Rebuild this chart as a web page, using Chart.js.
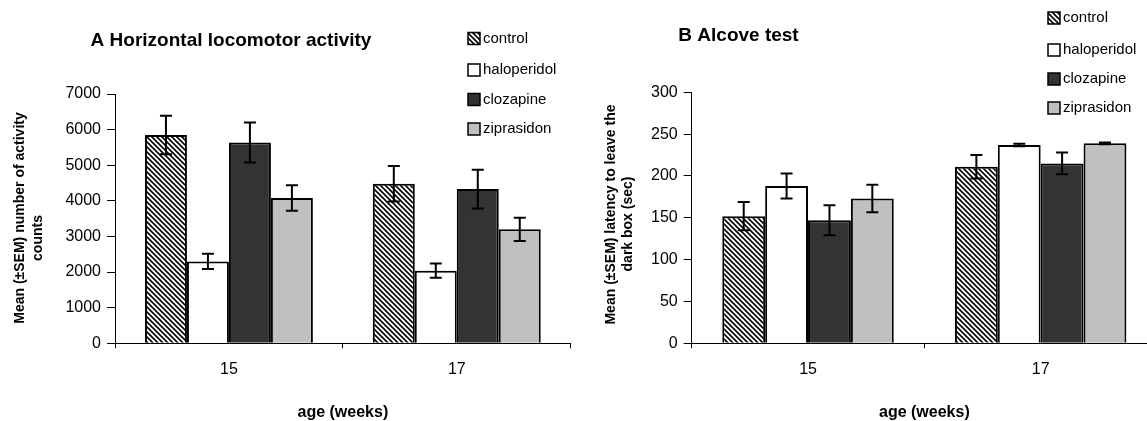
<!DOCTYPE html>
<html>
<head>
<meta charset="utf-8">
<script src="https://cdn.jsdelivr.net/npm/chart.js@4.4.0/dist/chart.umd.min.js"></script>
<style>
html, body { margin: 0; padding: 0; background: #fff; overflow: hidden; width: 1147px; height: 421px; }
.box { position: absolute; top: 0; height: 421px; }
#boxA { left: 0; width: 580px; }
#boxB { left: 580px; width: 580px; }
</style>
</head>
<body>
<div class="box" id="boxA"><canvas id="chartA" width="580" height="421"></canvas></div>
<div class="box" id="boxB"><canvas id="chartB" width="580" height="421"></canvas></div>
<script>
// age in weeks
const categories = ['15', '17'];
const seriesNames = ['control', 'haloperidol', 'clozapine', 'ziprasidon'];

// A: horizontal locomotor activity (counts), mean and SEM
const locoControl = [5850, 4480];
const locoHaloperidol = [2300, 2040];
const locoClozapine = [5640, 4330];
const locoZiprasidon = [4080, 3200];
const locoSemControl = [540, 500];
const locoSemHaloperidol = [215, 200];
const locoSemClozapine = [560, 545];
const locoSemZiprasidon = [355, 325];
const locoTicks = [0, 1000, 2000, 3000, 4000, 5000, 6000, 7000];

// B: alcove test, latency (sec), mean and SEM
const alcoveControl = [152, 211];
const alcoveHaloperidol = [188, 237];
const alcoveClozapine = [147, 215];
const alcoveZiprasidon = [173, 239];
const alcoveSemControl = [17, 14];
const alcoveSemHaloperidol = [15, 1.5];
const alcoveSemClozapine = [18, 13];
const alcoveSemZiprasidon = [16.5, 1];
const alcoveTicks = [0, 50, 100, 150, 200, 250, 300];

const FONT = "'Liberation Sans', Arial, sans-serif";
Chart.defaults.font.family = FONT;
Chart.defaults.color = '#000';

// diagonal hatch for the control group
function makeHatch() {
    const s = 5;
    const c = document.createElement('canvas');
    c.width = s; c.height = s;
    const g = c.getContext('2d');
    g.fillStyle = '#fff';
    g.fillRect(0, 0, s, s);
    g.strokeStyle = '#000';
    g.lineWidth = 1.6;
    g.beginPath();
    g.moveTo(-1, -1); g.lineTo(s + 1, s + 1);
    g.moveTo(-1, s - 1); g.lineTo(1, s + 1);
    g.moveTo(s - 1, -1); g.lineTo(s + 1, 1);
    g.stroke();
    return g.createPattern(c, 'repeat');
}
const hatch = makeHatch();
const fills = [hatch, '#ffffff', '#333333', '#c0c0c0'];

function errorBars(semLists) {
    return {
        id: 'errorBars',
        afterDatasetsDraw(chart) {
            const ctx = chart.ctx;
            const yScale = chart.scales.y;
            ctx.save();
            ctx.strokeStyle = '#000';
            ctx.lineWidth = 2;
            chart.data.datasets.forEach((ds, i) => {
                chart.getDatasetMeta(i).data.forEach((bar, j) => {
                    const v = ds.data[j];
                    const e = semLists[i][j];
                    const yTop = yScale.getPixelForValue(v + e);
                    const yBot = yScale.getPixelForValue(v - e);
                    ctx.beginPath();
                    ctx.moveTo(bar.x, yTop); ctx.lineTo(bar.x, yBot);
                    ctx.moveTo(bar.x - 6, yTop); ctx.lineTo(bar.x + 6, yTop);
                    ctx.moveTo(bar.x - 6, yBot); ctx.lineTo(bar.x + 6, yBot);
                    ctx.stroke();
                });
            });
            ctx.restore();
        }
    };
}

// title, rotated y title lines and the boxed legend
function decor(cfg) {
    return {
        id: 'decor',
        afterDraw(chart) {
            const ctx = chart.ctx;
            ctx.save();
            ctx.fillStyle = '#000';
            ctx.textBaseline = 'middle';

            ctx.font = 'bold 19px ' + FONT;
            ctx.textAlign = 'center';
            ctx.fillText(cfg.title, cfg.titleX, cfg.titleY);

            ctx.font = 'bold 14px ' + FONT;
            cfg.yTitle.forEach(line => {
                ctx.save();
                ctx.translate(line.x, line.y);
                ctx.rotate(-Math.PI / 2);
                ctx.fillText(line.text, 0, 0);
                ctx.restore();
            });

            ctx.font = '15px ' + FONT;
            ctx.textAlign = 'left';
            chart.data.datasets.forEach((ds, i) => {
                const y = cfg.legendY[i];
                ctx.fillStyle = ds.backgroundColor;
                ctx.fillRect(cfg.legendX, y - 6, 12, 12);
                ctx.strokeStyle = '#000';
                ctx.lineWidth = 1.5;
                ctx.strokeRect(cfg.legendX, y - 6, 12, 12);
                ctx.fillStyle = '#000';
                ctx.fillText(ds.label, cfg.legendX + 15, y);
            });
            ctx.restore();
        }
    };
}

function buildChart(canvasId, values, sems, ticks, pad, yWidth, cfg) {
    const datasets = seriesNames.map((name, i) => ({
        label: name,
        data: values[i],
        backgroundColor: fills[i],
        borderColor: '#000',
        borderWidth: 2,
        borderSkipped: 'bottom',
        categoryPercentage: 0.737,
        barPercentage: 1.0
    }));
    return new Chart(document.getElementById(canvasId), {
        type: 'bar',
        data: { labels: categories, datasets: datasets },
        options: {
            responsive: false,
            animation: false,
            layout: { padding: pad },
            plugins: { legend: { display: false }, title: { display: false }, tooltip: { enabled: false } },
            scales: {
                x: {
                    offset: true,
                    grid: { display: true, offset: true, drawOnChartArea: false, drawTicks: true, tickLength: 5, color: '#000' },
                    border: { display: true, color: '#000', width: 1 },
                    ticks: { font: { size: 16 }, padding: 12, color: '#000' },
                    title: { display: true, text: 'age (weeks)', font: { size: 16, weight: 'bold', lineHeight: 1 }, padding: 0, color: '#000' },
                    afterFit(scale) { scale.height = 77.7; }
                },
                y: {
                    min: ticks[0],
                    max: ticks[ticks.length - 1],
                    grid: { display: true, drawOnChartArea: false, drawTicks: true, tickLength: 8, color: '#000' },
                    border: { display: true, color: '#000', width: 1 },
                    ticks: {
                        stepSize: ticks[1] - ticks[0],
                        font: { size: 16 },
                        padding: 6,
                        color: '#000',
                        callback: value => String(value)
                    },
                    afterFit(scale) { scale.width = yWidth; }
                }
            }
        },
        plugins: [errorBars(sems), decor(cfg)]
    });
}

buildChart('chartA',
    [locoControl, locoHaloperidol, locoClozapine, locoZiprasidon],
    [locoSemControl, locoSemHaloperidol, locoSemClozapine, locoSemZiprasidon],
    locoTicks,
    { top: 94, right: 9.3, left: 0, bottom: 0 },
    115,
    {
        title: 'A Horizontal locomotor activity', titleX: 231, titleY: 41,
        yTitle: [
            { text: 'Mean (±SEM) number of activity', x: 20, y: 218 },
            { text: 'counts', x: 38, y: 238 }
        ],
        legendX: 468, legendY: [38.5, 70, 99.5, 129]
    });

buildChart('chartB',
    [alcoveControl, alcoveHaloperidol, alcoveClozapine, alcoveZiprasidon],
    [alcoveSemControl, alcoveSemHaloperidol, alcoveSemClozapine, alcoveSemZiprasidon],
    alcoveTicks,
    { top: 92.3, right: 3, left: 0, bottom: 0 },
    111.7,
    {
        title: 'B Alcove test', titleX: 158.5, titleY: 36,
        yTitle: [
            { text: 'Mean (±SEM) latency to leave the', x: 31, y: 214.5 },
            { text: 'dark box (sec)', x: 48, y: 224 }
        ],
        legendX: 468, legendY: [18, 50, 79, 108]
    });
</script>
</body>
</html>
